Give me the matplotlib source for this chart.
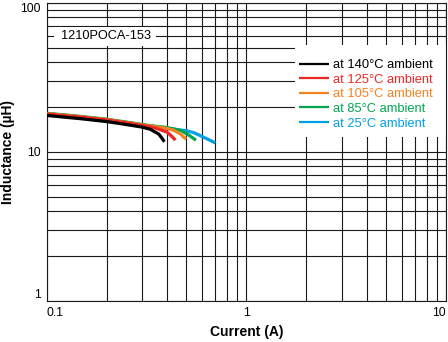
import matplotlib
matplotlib.use("Agg")
import matplotlib.pyplot as plt
from matplotlib.patches import Rectangle

plt.rcParams['font.family'] = ['Liberation Sans', 'DejaVu Sans']

# Data (current in A, inductance in uH)
labels = ["at 140°C ambient", "at 125°C ambient", "at 105°C ambient",
          "at 85°C ambient", "at 25°C ambient"]
colors = ["#000000", "#EE2724", "#F58220", "#00A651", "#00A0E3"]

i_140 = [0.10, 0.15, 0.20, 0.25, 0.30, 0.331, 0.3645, 0.378, 0.389]
l_140 = [17.6, 16.7, 16.0, 15.3, 14.7, 14.2, 13.2, 12.4, 11.7]

i_125 = [0.10, 0.15, 0.20, 0.25, 0.30, 0.35, 0.401, 0.425, 0.442]
l_125 = [18.0, 17.1, 16.4, 15.7, 15.1, 14.5, 13.6, 12.7, 12.0]

i_105 = [0.10, 0.15, 0.20, 0.25, 0.30, 0.35, 0.40, 0.433, 0.468, 0.50]
l_105 = [18.1, 17.2, 16.5, 15.8, 15.2, 14.8, 14.4, 14.0, 13.2, 12.2]

i_85 = [0.10, 0.15, 0.20, 0.25, 0.30, 0.35, 0.40, 0.468, 0.515, 0.56]
l_85 = [18.2, 17.3, 16.6, 15.9, 15.3, 14.9, 14.6, 14.0, 13.0, 12.0]

i_25 = [0.10, 0.15, 0.20, 0.25, 0.30, 0.35, 0.40, 0.433, 0.50, 0.545, 0.61, 0.70]
l_25 = [18.1, 17.2, 16.5, 15.8, 15.2, 14.8, 14.4, 14.2, 13.9, 13.5, 12.6, 11.5]

x_ticks = [0.1, 1, 10]
x_tick_labels = ["0.1", "1", "10"]
y_ticks = [1, 10, 100]
y_tick_labels = ["1", "10", "100"]

W, H = 448, 342
AX_L, AX_R, AX_T, AX_B = 46.5, 446, 3, 301
AW, AH = AX_R - AX_L, AX_B - AX_T

def axx(px):
    return (px - AX_L) / AW

def axy(py):
    return (AX_B - py) / AH

fig = plt.figure(figsize=(4.48, 3.42), dpi=100)
ax = fig.add_axes([AX_L / W, (H - AX_B) / H, AW / W, AH / H])
ax.set_xscale('log')
ax.set_yscale('log')
ax.set_xlim(0.1, 10)
ax.set_ylim(1, 100)

series = [(i_25, l_25, 4), (i_85, l_85, 3), (i_105, l_105, 2),
          (i_125, l_125, 1), (i_140, l_140, 0)]
handles = {}
for xs, ys, k in series:
    h, = ax.plot(xs, ys, color=colors[k], lw=2.3, solid_capstyle='butt', zorder=3 + (4 - k))
    handles[k] = h

ax.grid(True, which='both', color='#1a1a1a', lw=0.8)
ax.set_axisbelow(True)
for s in ax.spines.values():
    s.set_color('#1a1a1a')
    s.set_linewidth(0.8)

ax.set_xticks(x_ticks)
ax.set_xticklabels(x_tick_labels, fontsize=8.7)
ax.set_yticks(y_ticks)
ax.set_yticklabels(y_tick_labels, fontsize=8.7)
ax.minorticks_on()
ax.tick_params(which='both', length=0)
ax.tick_params(axis='x', which='major', pad=4.5)
ax.tick_params(axis='y', which='major', pad=4)
ax.xaxis.set_minor_formatter(plt.NullFormatter())
ax.yaxis.set_minor_formatter(plt.NullFormatter())
xl = ax.get_xticklabels()
xl[0].set_ha('left')
xl[2].set_ha('right')
yl = ax.get_yticklabels()
yl[0].set_va('bottom')
yl[2].set_va('top')

ax.set_xlabel("Current (A)", fontsize=10, fontweight='bold')
ax.set_ylabel("Inductance (µH)", fontsize=10, fontweight='bold')
ax.xaxis.set_label_coords(0.5, axy(325))
ax.yaxis.set_label_coords(axx(15), 0.5)

# model label with white background
ax.add_patch(Rectangle((axx(54), axy(46)), axx(156) - axx(54), axy(27) - axy(46),
                       transform=ax.transAxes, fc='white', ec='none', zorder=2.5))
ax.text(axx(106), axy(36), "1210POCA-153", transform=ax.transAxes,
        ha='center', va='center', fontsize=9.2, zorder=5)

# legend with white background box
ax.add_patch(Rectangle((axx(295), axy(137)), axx(446) - axx(295), axy(45) - axy(137),
                       transform=ax.transAxes, fc='white', ec='none', zorder=2.5))
leg = ax.legend([handles[k] for k in range(5)], labels, loc='upper left',
                bbox_to_anchor=(axx(299), axy(59)), borderaxespad=0,
                fontsize=9.3, frameon=False, handlelength=2.3,
                handletextpad=0.3, labelspacing=0.2, borderpad=0)
leg.set_zorder(6)
for t, c in zip(leg.get_texts(), colors):
    t.set_color(c)
for lh in leg.get_lines():
    lh.set_linewidth(1.6)

fig.savefig("out.png", dpi=100)
